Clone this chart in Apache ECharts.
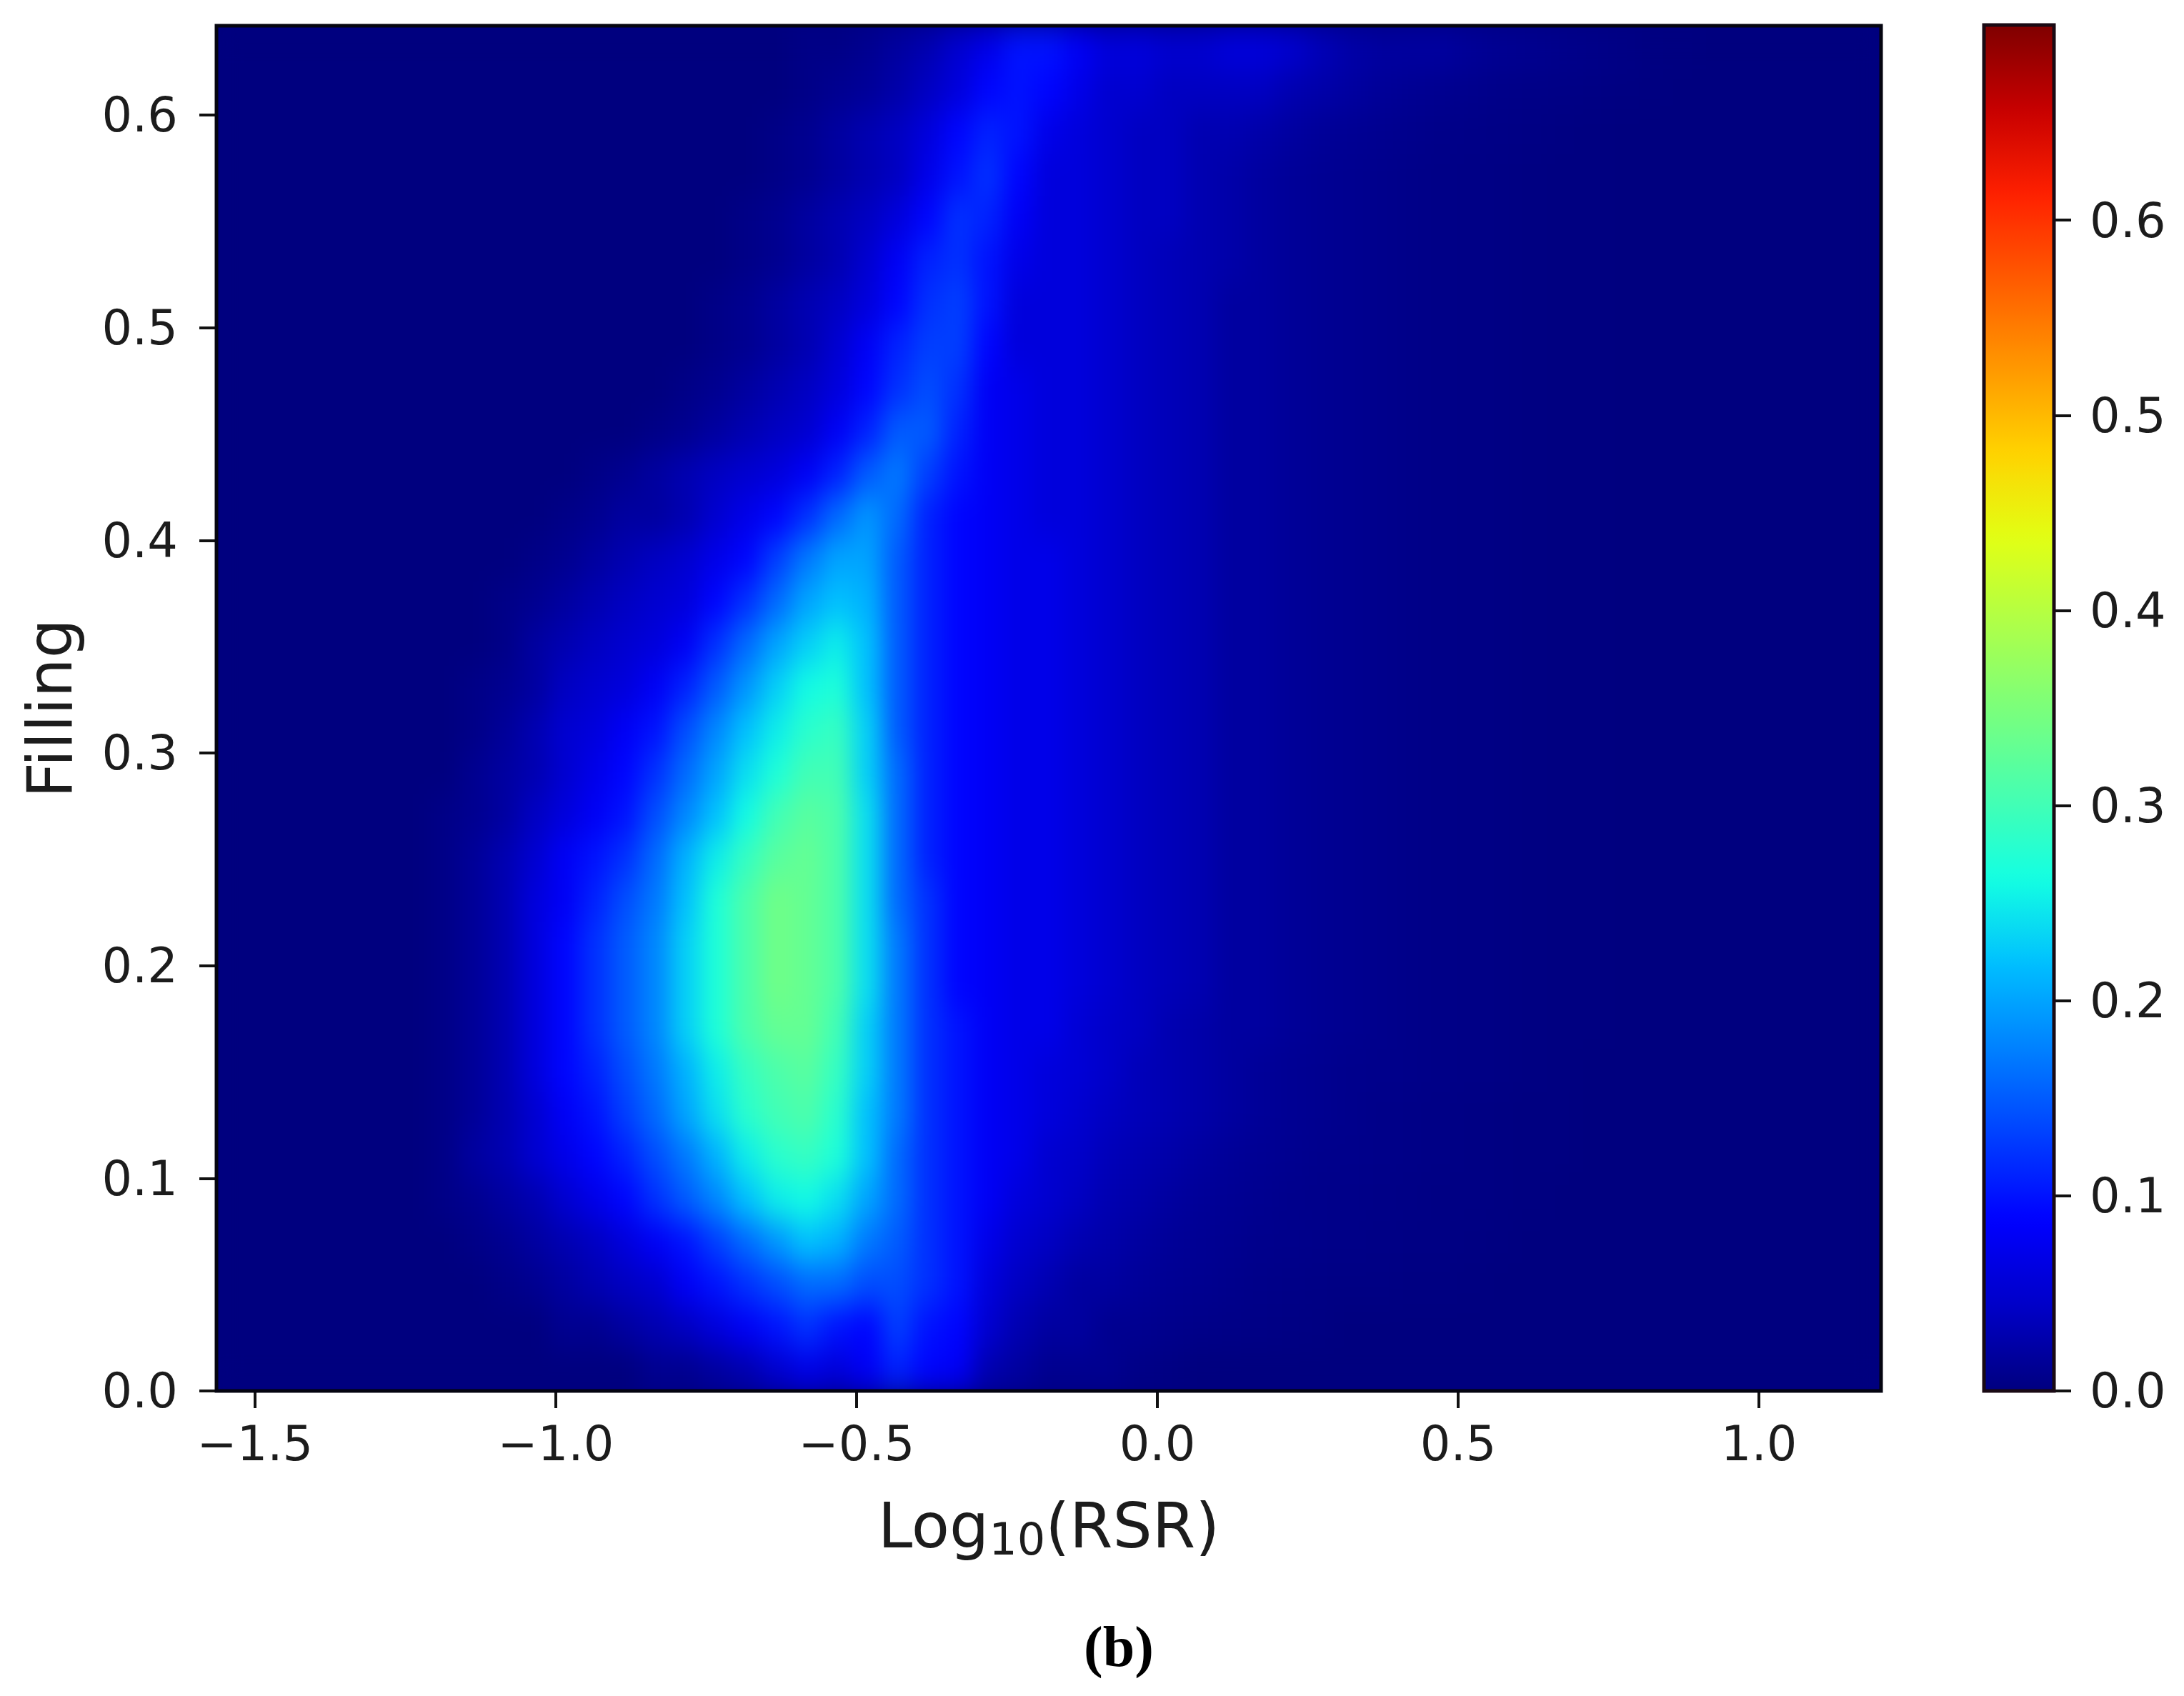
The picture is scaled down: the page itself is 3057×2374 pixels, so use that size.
<!DOCTYPE html>
<html>
<head>
<meta charset="utf-8">
<title>Filling vs Log10(RSR)</title>
<script src="https://cdn.jsdelivr.net/npm/echarts@6/dist/echarts.min.js"></script>
<style>
html, body { margin: 0; padding: 0; background: #fff; }
#page { position: relative; width: 3057px; height: 2374px; overflow: hidden; }
#heatClip { position: absolute; left: 303px; top: 36px; width: 2330px; height: 1911px; overflow: hidden; background: #00007f; }
#heat { width: 2330px; height: 1911px; filter: url(#soften); }
#axes { position: absolute; left: 0; top: 0; width: 3057px; height: 2374px; }
</style>
</head>
<body>
<svg width="0" height="0" style="position:absolute">
  <filter id="soften" x="0" y="0" width="100%" height="100%" color-interpolation-filters="sRGB">
    <feGaussianBlur stdDeviation="15 22"/>
  </filter>
</svg>
<div id="page">
  <div id="heatClip"><div id="heat"></div></div>
  <div id="axes"></div>
</div>
<script>
// column centres of the colour grid, Log10(RSR)
var logRsr = [-1.54,-1.49,-1.44,-1.39,-1.34,-1.29,-1.24,-1.19,-1.14,-1.09,
  -1.04,-0.99,-0.94,-0.89,-0.84,-0.79,-0.74,-0.69,-0.64,-0.59,
  -0.54,-0.49,-0.44,-0.39,-0.34,-0.29,-0.24,-0.19,-0.14,-0.09,
  -0.04,0.01,0.06,0.11,0.16,0.21,0.26,0.31,0.36,0.41,
  0.46,0.51,0.56,0.61,0.66,0.71,0.76,0.81,0.86,0.91,0.96,1.01,1.06,1.11,1.16];
// row centres, bottom to top
var filling = [0.01,0.03,0.05,0.07,0.09,0.11,0.13,0.15,0.17,0.19,0.21,0.23,0.25,0.27,0.29,0.31,
  0.33,0.35,0.37,0.39,0.41,0.43,0.45,0.47,0.49,0.51,0.53,0.55,0.57,0.59,0.61,0.63];

// density, in hundredths, one list per row
var f01 = [0,0,0,0,0,0,0,0,0,0, 0,0,0,0,1,1,2,3,5,7, 6,8,11,9,8,3,2,1,1,1, 0.5,0.3,0,0,0,0,0,0,0,0, 0,0,0,0,0,0,0,0,0,0,0,0,0,0,0];
var f03 = [0,0,0,0,0,0,0,0,0,0, 0,1,1,2,3,4,6,8,10,12, 10,9,13,10,9,5,3,2,2,1, 1,0.8,0.6,0.5,0.4,0.3,0.2,0,0,0, 0,0,0,0,0,0,0,0,0,0,0,0,0,0,0];
var f05 = [0,0,0,0,0,0,0,0,0,0.5, 1,2,3,4,5,8,10,12,14,16, 16,14,14,12,10,6,4,3,2,2, 1.5,1.2,1,0.8,0.6,0.5,0.4,0.3,0.3,0.2, 0.2,0.1,0,0,0,0,0,0,0,0,0,0,0,0,0];
var f07 = [0,0,0,0,0,0,0,0,0.5,1, 2,3,4,6,8,10,13,16,19,22, 21,17,15,12,10,7,5,4,3,2.5, 2,1.5,1.2,1,0.8,0.7,0.6,0.5,0.4,0.3, 0.3,0.2,0.1,0,0,0,0,0,0,0,0,0,0,0,0];
var f09 = [0,0,0,0,0,0,0,0.5,1,2, 3,5,7,9,12,15,18,22,25,26, 24,20,16,12,10,8,6,5,4,3, 2.5,2,1.5,1.2,1,0.8,0.7,0.6,0.5,0.4, 0.3,0.3,0.2,0.1,0,0,0,0,0,0,0,0,0,0,0];
var f11 = [0,0,0,0,0,0,0,0.5,2,3, 5,7,9,11,14,17,21,25,28,29, 27,22,16,12,10,8,7,5,4.5,3.5, 3,2.5,2,1.5,1.2,1,0.8,0.7,0.6,0.5, 0.4,0.3,0.2,0.1,0.1,0,0,0,0,0,0,0,0,0,0];
var f13 = [0,0,0,0,0,0,0,0.5,1.5,3, 5,8,10,13,16,20,24,28,30,31, 28,22,17,12,10,8,7,6,5,4, 3.5,3,2.5,2,1.5,1.2,1,0.8,0.6,0.5, 0.4,0.3,0.2,0.1,0.1,0,0,0,0,0,0,0,0,0,0];
var f15 = [0,0,0,0,0,0,0,0.5,1.5,3, 6,9,11,14,17,21,25,29,31,32, 29,23,17,12,10,8,7,6,5.5,4.5, 3.5,3,2.5,2,1.5,1.2,1,0.8,0.7,0.6, 0.5,0.4,0.3,0.2,0.1,0,0,0,0,0,0,0,0,0,0];
var f17 = [0,0,0,0,0,0,0,0.5,1.5,3, 6,9,12,15,18,23,27,31,33,33, 30,23,17,12,10,8,7,7,5.5,4.5, 4,3,2.5,2,2,1.5,1.2,1,0.8,0.6, 0.5,0.4,0.3,0.2,0.1,0.1,0,0,0,0,0,0,0,0,0];
var f19 = [0,0,0,0,0,0,0,0.5,1.5,3, 6,9,12,15,18,23,27,31,34,33, 31,24,17,12,9,8,7,7,6,5, 4,3.5,3,2,2,1.5,1.2,1,0.8,0.6, 0.5,0.4,0.3,0.2,0.1,0.1,0,0,0,0,0,0,0,0,0];
var f21 = [0,0,0,0,0,0,0,0.5,1.5,3, 6,9,12,15,18,23,27,31,34,33, 31,24,17,12,9,8,7,7,6,5, 4,3.5,3,2,2,1.5,1.2,1,0.8,0.6, 0.5,0.4,0.3,0.2,0.1,0.1,0,0,0,0,0,0,0,0,0];
var f23 = [0,0,0,0,0,0,0,0.5,1.5,3, 6,8,11,14,17,22,27,31,34,33, 31,24,16,12,9,8,7,7,6,5, 4,3.5,3,2,2,1.5,1.2,1,0.8,0.6, 0.5,0.4,0.3,0.2,0.1,0.1,0,0,0,0,0,0,0,0,0];
var f25 = [0,0,0,0,0,0,0,0.5,1.5,3, 5,8,10,12,16,21,25,29,32,33, 31,24,16,11,9,8,7,7,6,5, 4,3.5,3,2,2,1.5,1.2,1,0.8,0.6, 0.5,0.4,0.3,0.2,0.1,0.1,0,0,0,0,0,0,0,0,0];
var f27 = [0,0,0,0,0,0,0,0.5,1,2, 4,6,8,10,14,18,22,26,30,32, 31,24,16,11,9,8,7,7,6,5, 4,3.5,3,2,2,1.5,1.2,1,0.8,0.6, 0.5,0.4,0.3,0.2,0.1,0.1,0,0,0,0,0,0,0,0,0];
var f29 = [0,0,0,0,0,0,0,0,1,2, 3,5,7,9,12,16,20,24,27,30, 30,23,16,11,9,8,7,7,6,5, 4,3.5,3,2,2,1.5,1.2,1,0.8,0.6, 0.5,0.4,0.3,0.2,0.1,0.1,0,0,0,0,0,0,0,0,0];
var f31 = [0,0,0,0,0,0,0,0,0.5,1.5, 3,5,6,8,10,14,18,22,25,28, 29,23,15,11,9,8,7,7,6,5, 4,3.5,3,2,2,1.5,1.2,1,0.8,0.6, 0.5,0.4,0.3,0.2,0.1,0.1,0,0,0,0,0,0,0,0,0];
var f33 = [0,0,0,0,0,0,0,0,0.5,1, 2,4,5,6,8,11,15,19,23,26, 27,22,15,11,9,8,7,7,6,5, 4,3.5,3,2,2,1.5,1.2,1,0.8,0.6, 0.5,0.4,0.3,0.2,0.1,0.1,0,0,0,0,0,0,0,0,0];
var f35 = [0,0,0,0,0,0,0,0,0,0.5, 2,3,4,5,6,8,12,16,20,23, 25,22,15,11,9,8,7,7,6,5, 4,3.5,3,2,2,1.5,1.2,1,0.8,0.6, 0.5,0.4,0.3,0.2,0.1,0.1,0,0,0,0,0,0,0,0,0];
var f37 = [0,0,0,0,0,0,0,0,0,0.5, 1,2,3,4,5,6,9,12,16,20, 22,21,15,11,9,8,7,7,6,5, 4,3.5,3,2,2,1.5,1.2,1,0.8,0.6, 0.5,0.4,0.3,0.2,0.1,0.1,0,0,0,0,0,0,0,0,0];
var f39 = [0,0,0,0,0,0,0,0,0,0, 0.5,1,2,3,4,5,7,9,13,17, 20,20,15,11,9,8,7,7,6,5, 4,3.5,3,2,2,1.5,1.2,1,0.8,0.6, 0.5,0.4,0.3,0.2,0.1,0.1,0,0,0,0,0,0,0,0,0];
var f41 = [0,0,0,0,0,0,0,0,0,0, 0,0.5,1,2,2,3,5,7,9,12, 16,19,16,11,9,8,7,6,6,5, 4,3.5,3,2,2,1.5,1.2,1,0.8,0.6, 0.5,0.4,0.3,0.2,0.1,0.1,0,0,0,0,0,0,0,0,0];
var f43 = [0,0,0,0,0,0,0,0,0,0, 0,0,0.5,1,2,3,4,5,6,8, 11,15,17,13,10,8,7,6,6,5, 4,3.5,3,2,2,1.5,1.2,1,0.8,0.6, 0.5,0.4,0.3,0.2,0.1,0.1,0,0,0,0,0,0,0,0,0];
var f45 = [0,0,0,0,0,0,0,0,0,0, 0,0,0,0,0.5,1,2,3,4,5, 8,11,15,15,11,8,7,6,6,5, 4,3.5,3,2,2,1.5,1.2,1,0.8,0.6, 0.5,0.4,0.3,0.2,0.1,0.1,0,0,0,0,0,0,0,0,0];
var f47 = [0,0,0,0,0,0,0,0,0,0, 0,0,0,0,0,0.5,1,2,3,4, 6,9,12,14,12,8,7,6,6,5, 4,3.5,3,2,2,1.5,1.2,1,0.8,0.6, 0.5,0.4,0.3,0.2,0.1,0.1,0,0,0,0,0,0,0,0,0];
var f49 = [0,0,0,0,0,0,0,0,0,0, 0,0,0,0,0,0,0.5,1,2,3, 5,8,11,13,13,9,6,6,6,5, 4,3.5,3,2,2,1.5,1.2,1,0.8,0.6, 0.5,0.4,0.3,0.2,0.1,0.1,0,0,0,0,0,0,0,0,0];
var f51 = [0,0,0,0,0,0,0,0,0,0, 0,0,0,0,0,0,0.5,1,2,3, 4,6,9,12,13,10,6,6,6,5, 4,3.5,3,2,2,1.5,1.2,1,0.8,0.6, 0.5,0.4,0.3,0.2,0.1,0.1,0,0,0,0,0,0,0,0,0];
var f53 = [0,0,0,0,0,0,0,0,0,0, 0,0,0,0,0,0,0,0.5,1,2, 3,5,8,11,12,10,7,6,6,5, 4,3.5,3,2.5,2,1.5,1.2,1,0.8,0.6, 0.5,0.4,0.3,0.2,0.1,0.1,0,0,0,0,0,0,0,0,0];
var f55 = [0,0,0,0,0,0,0,0,0,0, 0,0,0,0,0,0,0,0.5,1,2, 3,4,6,9,12,11,8,6,6,5, 4,4,3,2.5,2,1.5,1.2,1,0.8,0.6, 0.5,0.4,0.3,0.2,0.1,0.1,0,0,0,0,0,0,0,0,0];
var f57 = [0,0,0,0,0,0,0,0,0,0, 0,0,0,0,0,0,0,0,0.5,1, 2,3,4,7,10,12,9,6,6,5, 4,4,3,2.5,2,1.5,1.2,1,0.8,0.6, 0.5,0.4,0.3,0.2,0.1,0.1,0,0,0,0,0,0,0,0,0];
var f59 = [0,0,0,0,0,0,0,0,0,0, 0,0,0,0,0,0,0,0,0.5,1, 2,3,4,6,9,11,10,7,6,5, 4,4,3,3,2.5,2,1.5,1.2,1,0.8, 0.6,0.5,0.4,0.3,0.2,0.1,0,0,0,0,0,0,0,0,0];
var f61 = [0,0,0,0,0,0,0,0,0,0, 0,0,0,0,0,0,0,0,0,0.5, 1,1.5,2.5,4,6,9,10,9,7,5, 5,4,4,4,4,3,2.5,2,1.5,1.2, 1,0.8,0.6,0.5,0.4,0.3,0.2,0.1,0,0,0,0,0,0,0];
var f63 = [0,0,0,0,0,0,0,0,0,0, 0,0,0,0,0,0,0,0,0,0.5, 0.5,1,2,3,5,7,10,10,8,6, 6,5,5,6,6,5,3.5,2.5,2,2, 2,1.5,1.2,1,0.8,0.6,0.4,0.2,0.1,0,0,0,0,0,0];
var densityRows = [f01,f03,f05,f07,f09,f11,f13,f15,f17,f19,f21,f23,f25,f27,f29,f31,
  f33,f35,f37,f39,f41,f43,f45,f47,f49,f51,f53,f55,f57,f59,f61,f63];

var xTicks = [-1.5, -1.0, -0.5, 0.0, 0.5, 1.0];
var yTicks = [0.0, 0.1, 0.2, 0.3, 0.4, 0.5, 0.6];
var barTicks = [0.0, 0.1, 0.2, 0.3, 0.4, 0.5, 0.6];
var jet = ['#00007f','#0000c8','#0000ff','#0040ff','#0080ff','#00bfff','#14ffe2','#48ffaf','#7bff7b',
  '#afff48','#e2ff14','#ffd200','#ff9700','#ff5c00','#ff2100','#c80000','#7f0000'];

var heatData = [];
densityRows.forEach(function (row, y) {
    row.forEach(function (v, x) {
        heatData.push([x, y, v / 100]);
    });
});

function tickText(v) {
    return (v < 0 ? '\u2212' : '') + Math.abs(v).toFixed(1);
}

// colour cells live in their own chart, softened by the svg filter
var heat = echarts.init(document.getElementById('heat'));
heat.setOption({
    animation: false,
    grid: { left: 0, right: 0, top: 0, bottom: 0 },
    xAxis: { type: 'category', data: logRsr, show: false },
    yAxis: { type: 'category', data: filling, show: false },
    visualMap: { show: false, min: 0, max: 0.7, inRange: { color: jet } },
    series: [{
        type: 'heatmap',
        data: heatData,
        silent: true,
        progressive: 0,
        itemStyle: { borderWidth: 0 }
    }]
});

var tickFont = { fontFamily: 'DejaVu Sans', fontSize: 67, color: '#1c1c1c' };
var nameFont = { fontFamily: 'DejaVu Sans', fontSize: 87, color: '#1c1c1c' };
var tickLine = { length: 24, lineStyle: { color: '#111', width: 4 } };

var axes = echarts.init(document.getElementById('axes'));
axes.setOption({
    animation: false,
    title: {
        text: '(b)',
        left: 1561,
        top: 2266,
        textAlign: 'center',
        textStyle: { fontFamily: 'Liberation Serif', fontWeight: 'bold', fontSize: 80, color: '#000' }
    },
    grid: [
        { left: 303, top: 36, width: 2330, height: 1911, show: true, z: 5, borderColor: '#050510', borderWidth: 5, backgroundColor: 'transparent' },
        { left: 2777, top: 35, width: 98, height: 1912, show: true, z: 5, borderColor: '#1a0a14', borderWidth: 5, backgroundColor: 'transparent' }
    ],
    xAxis: [
        {
            gridIndex: 0, type: 'value', min: -1.564, max: 1.203,
            splitLine: { show: false },
            axisLine: { show: false, onZero: false },
            axisTick: Object.assign({ customValues: xTicks }, tickLine),
            axisLabel: Object.assign({ customValues: xTicks, formatter: tickText, margin: 46 }, tickFont),
            name: '{t|Log}{s|10}{t|(RSR)}',
            nameLocation: 'middle',
            nameGap: 148,
            nameTextStyle: {
                rich: {
                    t: nameFont,
                    s: { fontFamily: 'DejaVu Sans', fontSize: 62, color: '#1c1c1c', padding: [34, 0, 0, 0] }
                }
            }
        },
        { gridIndex: 1, type: 'value', min: 0, max: 1, show: false }
    ],
    yAxis: [
        {
            gridIndex: 0, type: 'value', min: 0, max: 0.642,
            splitLine: { show: false },
            axisLine: { show: false, onZero: false },
            axisTick: Object.assign({ customValues: yTicks }, tickLine),
            axisLabel: Object.assign({ customValues: yTicks, formatter: tickText, margin: 54, verticalAlign: 'top', lineHeight: 12 }, tickFont),
            name: 'Filling',
            nameLocation: 'middle',
            nameGap: 182,
            nameTextStyle: nameFont
        },
        {
            gridIndex: 1, type: 'value', position: 'right', min: 0, max: 0.7,
            splitLine: { show: false },
            axisLine: { show: false, onZero: false },
            axisTick: Object.assign({ customValues: barTicks }, tickLine),
            axisLabel: Object.assign({ customValues: barTicks, formatter: tickText, margin: 50, verticalAlign: 'top', lineHeight: 12 }, tickFont)
        }
    ],
    visualMap: {
        type: 'continuous',
        min: 0, max: 0.7,
        left: 2777, top: 35,
        itemWidth: 98, itemHeight: 1912,
        padding: 0,
        text: null,
        showLabel: false,
        calculable: false,
        seriesIndex: [],
        inRange: { color: jet }
    },
    series: []
});
</script>
</body>
</html>
